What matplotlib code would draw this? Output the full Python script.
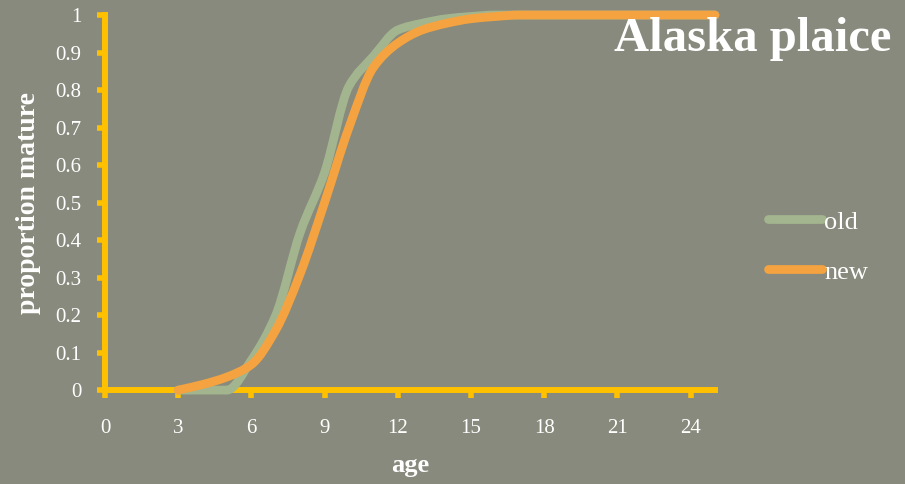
import numpy as np
import matplotlib
matplotlib.use("Agg")
import matplotlib.pyplot as plt
from matplotlib.path import Path
from matplotlib.patches import PathPatch
from matplotlib.lines import Line2D

# maturity ogives for Alaska plaice, by age
ages = list(range(3, 26))
old = [0, 0, 0, 0.08, 0.20, 0.42, 0.58, 0.81, 0.89, 0.96, 0.978, 0.99, 0.996,
       1, 1, 1, 1, 1, 1, 1, 1, 1, 1]
new = [0, 0.015, 0.035, 0.068, 0.16, 0.31, 0.50, 0.70, 0.86, 0.925, 0.96, 0.978,
       0.99, 0.996, 1, 1, 1, 1, 1, 1, 1, 1, 1]
xticks = [0, 3, 6, 9, 12, 15, 18, 21, 24]
yticks = [0, 0.1, 0.2, 0.3, 0.4, 0.5, 0.6, 0.7, 0.8, 0.9, 1]
ytick_labels = ["0", "0.1", "0.2", "0.3", "0.4", "0.5", "0.6", "0.7", "0.8", "0.9", "1"]

BG = "#878a7c"
GOLD = "#ffc000"
GREEN = "#a3b58f"
ORANGE = "#f4a340"
FONT = "Liberation Serif"


def smooth_path(x, y):
    # monotone cubic (Fritsch-Carlson) curve as bezier segments, no overshoot
    x = np.asarray(x, float)
    y = np.asarray(y, float)
    h = np.diff(x)
    d = np.diff(y) / h
    m = np.zeros_like(y)
    m[0], m[-1] = d[0], d[-1]
    for i in range(1, len(y) - 1):
        if d[i - 1] * d[i] <= 0:
            m[i] = 0
        else:
            m[i] = 2 / (1 / d[i - 1] + 1 / d[i])
    verts = [(x[0], y[0])]
    codes = [Path.MOVETO]
    for i in range(len(x) - 1):
        verts += [(x[i] + h[i] / 3, y[i] + m[i] * h[i] / 3),
                  (x[i + 1] - h[i] / 3, y[i + 1] - m[i + 1] * h[i] / 3),
                  (x[i + 1], y[i + 1])]
        codes += [Path.CURVE4] * 3
    return Path(verts, codes)


fig = plt.figure(figsize=(9.05, 4.84), dpi=100, facecolor=BG)
ax = fig.add_axes([0.116, 0.194, 0.674, 0.775])
ax.set_facecolor(BG)

for vals, col in [(old, GREEN), (new, ORANGE)]:
    patch = PathPatch(smooth_path(ages, vals), facecolor="none", edgecolor=col,
                      lw=6.3, capstyle="round", joinstyle="round",
                      zorder=3, clip_on=False)
    ax.add_patch(patch)

ax.set_xlim(0, 25)
ax.set_ylim(0, 1)
ax.set_xticks(xticks)
ax.set_yticks(yticks)
ax.set_yticklabels(ytick_labels)

for side in ["top", "right"]:
    ax.spines[side].set_visible(False)
for side in ["left", "bottom"]:
    ax.spines[side].set_color(GOLD)
    ax.spines[side].set_linewidth(4.3)
    ax.spines[side].set_capstyle("projecting")

ax.tick_params(axis="both", colors=GOLD, width=4, length=6, direction="out",
               labelcolor="white", labelsize=15)
ax.tick_params(axis="y", pad=11)
ax.tick_params(axis="x", pad=15)
for lab in ax.get_xticklabels() + ax.get_yticklabels():
    lab.set_fontfamily(FONT)

ax.set_xlabel("age", fontsize=19, fontweight="bold", color="white",
              fontfamily=FONT, va="center")
ax.set_ylabel("proportion mature", fontsize=20, fontweight="bold", color="white",
              fontfamily=FONT, va="center")
ax.yaxis.set_label_coords(-0.126, 0.5)
ax.xaxis.set_label_coords(0.5, -0.2)

fig.text(0.985, 0.92, "Alaska plaice", ha="right", va="center", fontsize=35,
         fontweight="bold", color="white", fontfamily=FONT)

handles = [Line2D([], [], color=GREEN, lw=6.3, solid_capstyle="round"),
           Line2D([], [], color=ORANGE, lw=6.3, solid_capstyle="round")]
leg = fig.legend(handles, ["old", "new"], loc="center left",
                 bbox_to_anchor=(0.822, 0.49), frameon=False,
                 handlelength=2.05, handletextpad=0.1, labelspacing=1.0,
                 prop={"family": FONT, "size": 19})
for t in leg.get_texts():
    t.set_color("white")

fig.savefig("out.png", dpi=100, facecolor=BG)
